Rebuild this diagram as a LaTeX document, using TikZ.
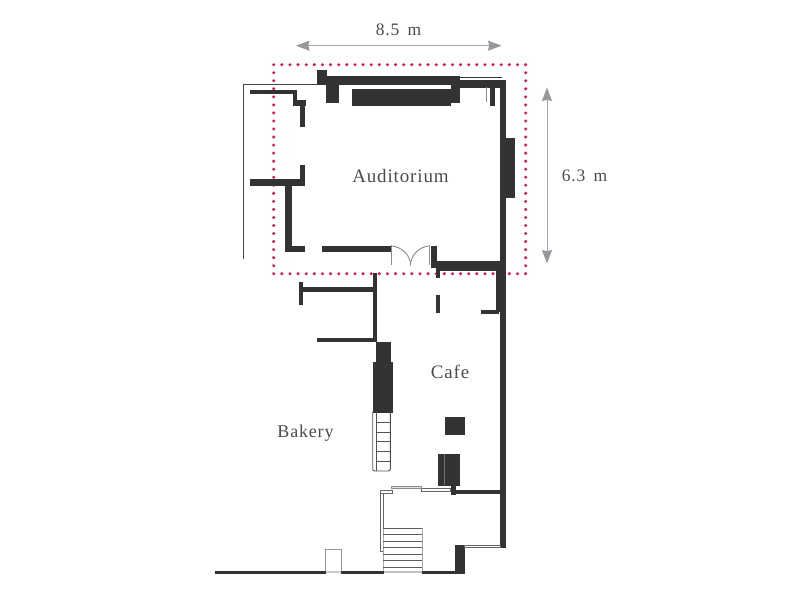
\documentclass[tikz,border=0pt]{standalone}
\usepackage{fontspec}
\setmainfont[LetterSpace=4.5,WordSpace=1.6]{Liberation Serif}
\usetikzlibrary{arrows.meta}
\definecolor{wallc}{HTML}{333333}
\definecolor{textc}{HTML}{4A4A50}
\definecolor{dimc}{HTML}{A8A8AC}
\definecolor{headc}{HTML}{98989C}
\definecolor{redc}{HTML}{E0123F}
\newcommand{\wl}[4]{\filldraw[fill=wallc,draw=wallc,line width=0.4pt] (#1,#2) rectangle (#3,#4);}
\newcommand{\ol}[4]{\draw[outl] (#1,#2) rectangle (#3,#4);}
\tikzset{
  label text/.style={text=textc,font=\fontsize{19}{21}\selectfont,inner sep=0pt,anchor=base},
  small label/.style={text=textc,font=\fontsize{18}{20}\selectfont,inner sep=0pt,anchor=base},
  dim text/.style={text=textc,font=\fontsize{17.5}{20}\selectfont,inner sep=0pt,anchor=base},
  dimline/.style={draw=dimc,line width=1pt,{Stealth[length=13.5pt,width=10pt,inset=1.2pt,color=headc]}-{Stealth[length=13.5pt,width=10pt,inset=1.2pt,color=headc]}},
  outl/.style={draw=wallc!75,line width=0.8pt,fill=white},
  thin wall/.style={draw=wallc,line width=1pt},
  grey wall/.style={draw=black!45,line width=1pt},
  stair/.style={draw=wallc!80,line width=1pt},
  reddot/.style={fill=redc,radius=1.65pt},
}
\begin{document}
\begin{tikzpicture}[x=1pt,y=-1pt]
\useasboundingbox (0,0) rectangle (800,600);
% dotted extent
\foreach \i in {0,...,31}{
  \fill[reddot] ({273.7+\i*8.125},64.7) circle;
  \fill[reddot] ({273.7+\i*8.125},273.7) circle;
}
\foreach \i in {1,...,25}{
  \fill[reddot] (273.7,{64.7+\i*8.04}) circle;
  \fill[reddot] (525.7,{64.7+\i*8.04}) circle;
}
% outer thin line
\draw[draw=wallc!90,line width=1pt] (243.7,259) -- (243.7,84.3) -- (320,84.3);
% top
\wl{317.3}{70}{326.3}{84.3}
\wl{326.3}{75.7}{459.3}{84.3}
\wl{326.3}{84.3}{337.7}{101.7}
\wl{351.7}{89.3}{450}{105}
\wl{451}{84.3}{459.3}{101.7}
\draw[thin wall] (459.3,77.3) -- (502.3,77.3);
\wl{459.3}{80.3}{500}{86.7}
\draw[grey wall] (486.7,86.7) -- (486.7,101.7);
\wl{490}{86.7}{494.3}{105}
% right wall
\wl{500}{80}{504.7}{546.7}
\wl{504.7}{138.3}{514.3}{197}
% upper-left walls
\wl{250}{89.7}{296}{93.3}
\wl{293.3}{93.3}{296}{100}
\wl{293.3}{100}{305}{105}
\wl{300.3}{105}{303.7}{126}
\wl{300.3}{165}{303.7}{185}
\wl{250}{179}{301}{185}
\wl{285}{185}{291.3}{251}
\wl{285}{246}{303.7}{251}
\wl{321.7}{246}{390}{251}
% door
\draw[grey wall] (391.3,245.3) -- (391.3,265.3);
\draw[grey wall] (429.3,245.3) -- (429.3,265.3);
\draw[draw=black!50,line width=0.8pt] (391.3,245.8) .. controls (402,247) and (410.5,255) .. (410.5,265.3);
\draw[draw=black!50,line width=0.8pt] (429.3,245.8) .. controls (419,247) and (410.5,255) .. (410.5,265.3);
% below the door
\wl{431}{246}{436}{266.7}
\wl{436}{261.3}{500}{270}
\wl{436}{270}{439.3}{277.3}
\wl{436}{294.7}{439.3}{312.3}
\wl{495.7}{270}{500}{310.7}
\wl{480.7}{309.7}{497.7}{313.3}
% middle rooms
\wl{372.7}{273.3}{376.3}{340.7}
\wl{302}{287.3}{372.7}{290.7}
\wl{298.7}{282.3}{302}{303.7}
\wl{317}{338.3}{376.3}{340.7}
% counter
\wl{376.3}{342.3}{390.3}{362.3}
\wl{372.7}{362.3}{392.3}{411.7}
\draw[draw=wallc!85,line width=0.9pt,rounded corners=2pt] (372.7,411.7) -- (372.7,471) -- (390.3,471) -- (390.3,411.7);
\draw[draw=wallc!85,line width=0.8pt] (376.7,411.7) -- (376.7,471);
\foreach \y in {422.7,432.3,441.7,451.7,461.3}{\draw[draw=wallc!85,line width=0.8pt] (376.7,\y) -- (390.3,\y);}
% cafe blocks
\wl{444.7}{417.3}{464.3}{433.7}
\wl{437.7}{454}{459}{485.3}
\draw[draw=black!55,line width=0.6pt] (444.3,454) -- (444.3,485.3);
\wl{450.7}{485.3}{454.7}{494.3}
\wl{454.7}{489.7}{500}{493.3}
% entrance
\ol{421.7}{488}{450}{491.5}
\draw[draw=black!45,fill=black!12,line width=0.8pt] (391.3,486.7) rectangle (421.7,488.3);
\ol{380.8}{490}{392.5}{493.3}
\ol{380.8}{493.3}{383.3}{551}
% stairs
\draw[draw=black!35,line width=1pt] (383.3,528.3) -- (383.3,572);
\draw[draw=black!35,line width=1pt] (422,528.3) -- (422,572);
\foreach \y in {528.3,534.7,541,547.3,554,560.3,567.3}{\draw[stair] (383.3,\y) -- (422,\y);}
\draw[draw=black!25,line width=1.5pt] (383.3,572) -- (422,572);
% lower right
\wl{454.7}{544.7}{464}{573}
\ol{464}{544.9}{500}{547.1}
% bottom wall
\wl{215}{571}{325.3}{573}
\wl{341.3}{571}{383.3}{573}
\wl{422}{571}{454.7}{573}
\draw[draw=black!40,line width=1pt] (325.6,571) -- (325.6,549) -- (341,549) -- (341,571);
\draw[draw=black!20,line width=1.5pt] (325.6,572) -- (341,572);
% labels
\node[dim text] (widthlabel) at (398.5,35) {8.5 m};
\node[dim text] (heightlabel) at (584.5,181) {6.3 m};
\node[label text] (auditorium) at (400.5,182.5) {Auditorium};
\node[label text] (cafe) at (450,378) {Cafe};
\node[small label] (bakery) at (305.5,437) {Bakery};
% dimensions
\coordinate (wa) at (296,45.7);
\coordinate (wb) at (501.5,45.7);
\coordinate (ha) at (547,87.5);
\coordinate (hb) at (547,263.5);
\draw[dimline] (wa) -- (wb);
\draw[dimline] (ha) -- (hb);
\end{tikzpicture}
\end{document}
